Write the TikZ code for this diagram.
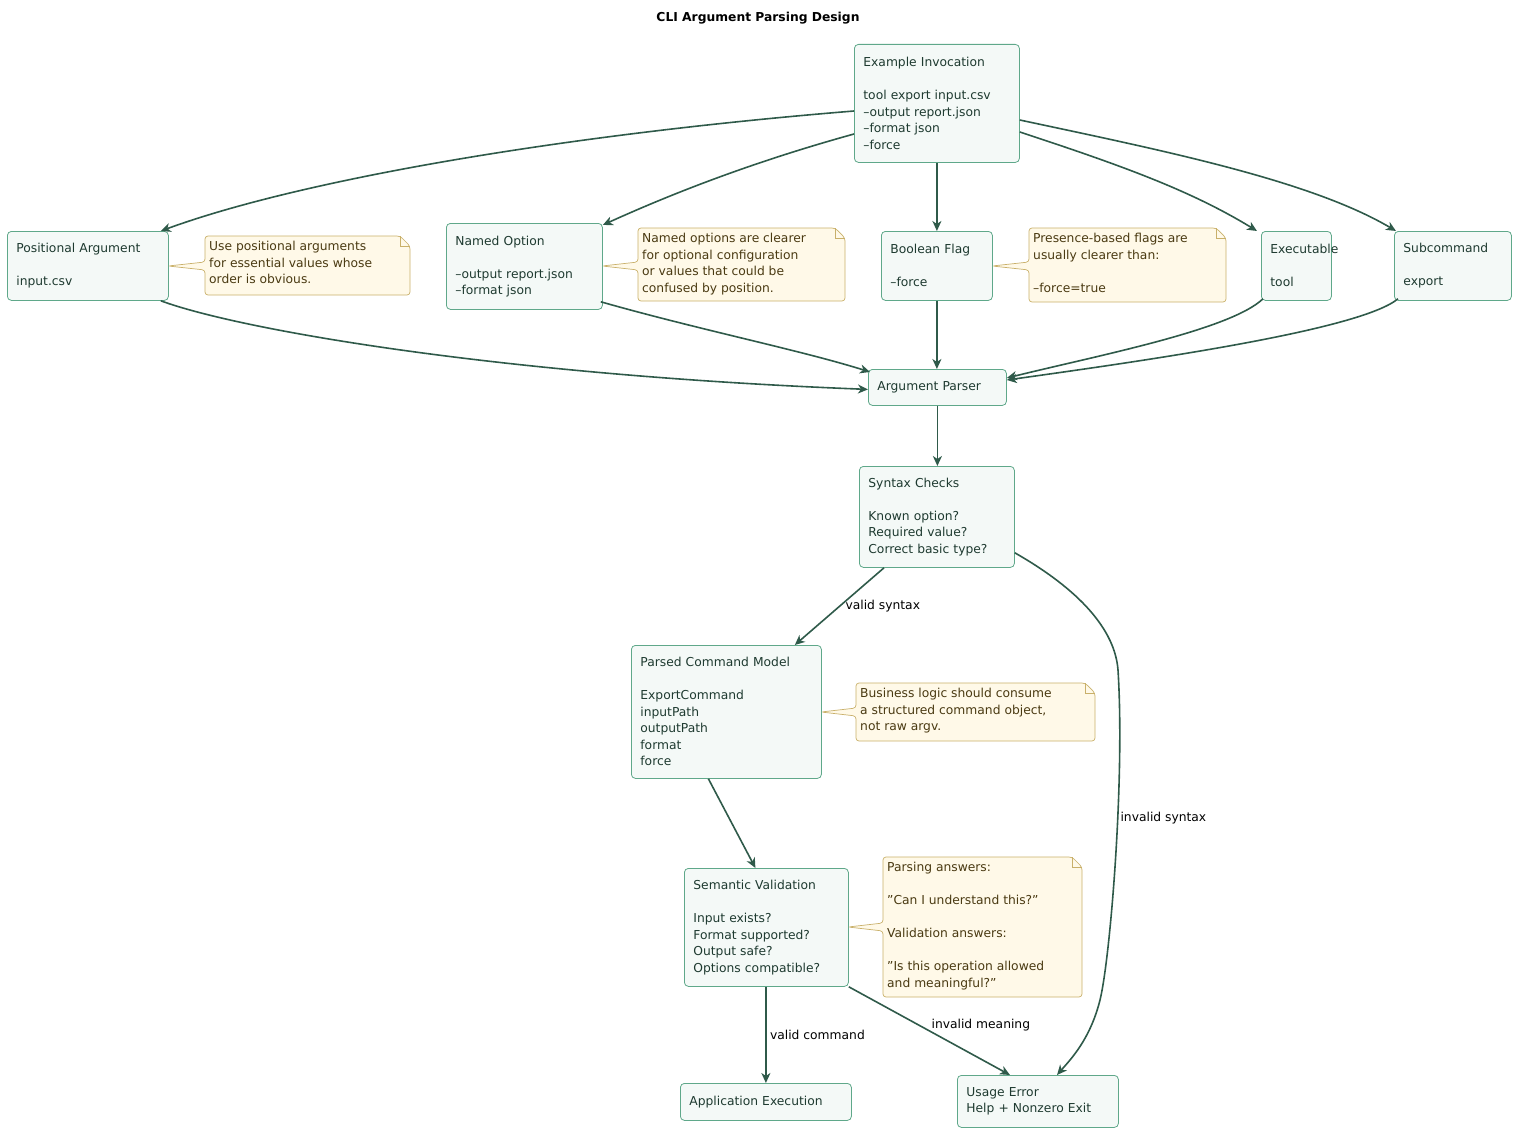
\documentclass[tikz,border=0pt]{standalone}
\usepackage{fontspec}
\setmainfont{DejaVu Sans}
\usetikzlibrary{arrows.meta,calc}
\definecolor{nfill}{HTML}{F4F9F7}
\definecolor{nline}{HTML}{5FA88A}
\definecolor{ntext}{HTML}{1E3A30}
\definecolor{eline}{HTML}{2F5A4A}
\definecolor{qfill}{HTML}{FFF9E8}
\definecolor{qline}{HTML}{C9B06A}
\definecolor{qtext}{HTML}{4A3A12}
\tikzset{
  box/.style={draw=nline, fill=nfill, rounded corners=4pt, anchor=north west, align=left,
    inner xsep=9pt, inner ysep=4pt, text=ntext, font=\fontsize{12.3}{16.5}\selectfont, line width=0.8pt},
  arr/.style={-{Stealth[length=10pt,width=9pt,inset=3pt]}, draw=eline, line width=1.6pt},
  notep/.style={draw=qline, fill=qfill, line width=0.7pt},
  notet/.style={anchor=north west, align=left, inner sep=3pt, text=qtext, font=\fontsize{12.3}{16.5}\selectfont},
  lab/.style={font=\fontsize{12.3}{16.5}\selectfont, text=black}
}
\newcommand{\bx}[6]{\node[box, minimum width=#4pt, minimum height=#5pt, text width=#4pt-18pt] (#1) at (#2,#3) {#6};}
\begin{document}
\begin{tikzpicture}[x=1pt,y=-1pt]
\useasboundingbox (0,0) rectangle (1516,1132);
\node[font=\fontsize{12.3}{15}\selectfont\bfseries] (title) at (758,18) {CLI Argument Parsing Design};
\bx{ex}{854}{44}{165}{118}{Example Invocation\\[16.5pt]tool export input.csv\\--output report.json\\--format json\\--force}
\bx{pos}{7}{231}{161}{69}{Positional Argument\\[16.5pt]input.csv}
\bx{nam}{446}{223}{156}{86}{Named Option\\[16.5pt]--output report.json\\--format json}
\bx{bool}{881}{231}{111}{69}{Boolean Flag\\[16.5pt]--force}
\bx{exe}{1261}{231}{70}{69}{Executable\\[16.5pt]tool}
\bx{sub}{1394}{231}{117}{69}{Subcommand\\[16.5pt]export}
\bx{par}{868}{369}{138}{36}{Argument Parser}
\bx{syn}{859}{466}{155}{101}{Syntax Checks\\[16.5pt]Known option?\\Required value?\\Correct basic type?}
\bx{pcm}{631}{645}{190}{133}{Parsed Command Model\\[16.5pt]ExportCommand\\inputPath\\outputPath\\format\\force}
\bx{sem}{684}{868}{164}{118}{Semantic Validation\\[16.5pt]Input exists?\\Format supported?\\Output safe?\\Options compatible?}
\bx{app}{680}{1083}{171}{37}{Application Execution}
\bx{use}{957}{1075}{161}{52}{Usage Error\\Help + Nonzero Exit}
% notes
\begin{scope}[rounded corners=3pt]
\draw[notep] (205,236)--(400,236)--(410,246)--(410,295)--(205,295)--(205,270)--(168,266)--(205,262)--cycle;
\draw[notep] (638,228)--(835,228)--(845,238)--(845,301)--(638,301)--(638,270)--(602,266)--(638,262)--cycle;
\draw[notep] (1029,228)--(1216,228)--(1226,238)--(1226,302)--(1029,302)--(1029,270)--(992,266)--(1029,262)--cycle;
\draw[notep] (856,683)--(1085,683)--(1095,693)--(1095,741)--(856,741)--(856,716)--(821,712)--(856,708)--cycle;
\draw[notep] (883,857)--(1072,857)--(1082,867)--(1082,997)--(883,997)--(883,931)--(848,927)--(883,923)--cycle;
\end{scope}
\draw[qline,line width=0.7pt] (400,236)--(400,246)--(410,246) (835,228)--(835,238)--(845,238) (1216,228)--(1216,238)--(1226,238) (1085,683)--(1085,693)--(1095,693) (1072,857)--(1072,867)--(1082,867);
\node[notet] (n1) at (206,238) {Use positional arguments\\for essential values whose\\order is obvious.};
\node[notet] (n2) at (639,230) {Named options are clearer\\for optional configuration\\or values that could be\\confused by position.};
\node[notet] (n3) at (1030,230) {Presence-based flags are\\usually clearer than:\\[16.5pt]--force=true};
\node[notet] (n4) at (857,685) {Business logic should consume\\a structured command object,\\not raw argv.};
\node[notet] (n5) at (884,859) {Parsing answers:\\[16.5pt]"Can I understand this?"\\[16.5pt]Validation answers:\\[16.5pt]"Is this operation allowed\\and meaningful?"};
% edges
\draw[arr] ($(ex.north west)+(0,67)$) .. controls (560,135) and (300,180) .. ($(pos.north east)+(-8,0)$);
\draw[arr] ($(ex.north west)+(0,90)$) .. controls (760,160) and (680,190) .. ($(nam.north east)+(0,2)$);
\draw[arr] (ex.south -| bool.north) -- (bool.north);
\draw[arr] ($(ex.north east)+(0,88)$) .. controls (1120,165) and (1190,190) .. ($(exe.north west)+(-4,0)$);
\draw[arr] ($(ex.north east)+(0,76)$) .. controls (1160,150) and (1310,180) .. ($(sub.north west)+(2,0)$);
\draw[arr] ($(pos.south east)+(-8,0)$) .. controls (240,330) and (500,375) .. ($(par.west)+(0,2)$);
\draw[arr] ($(nam.south east)+(-2,-8)$) .. controls (700,330) and (800,350) .. ($(par.north west)+(2,3)$);
\draw[arr] (bool.south) -- (bool.south |- par.north);
\draw[arr] ($(exe.south west)+(2,-2)$) .. controls (1230,330) and (1100,355) .. ($(par.north east)+(0,9)$);
\draw[arr] ($(sub.south west)+(4,-2)$) .. controls (1360,330) and (1150,360) .. ($(par.north east)+(0,11)$);
\draw[arr] (par.south) -- (par.south |- syn.north);
\draw[arr] ($(syn.south west)+(25,0)$) -- node[lab,pos=0.5,anchor=west,xshift=2pt] {valid syntax} ($(pcm.north east)+(-27,0)$);
\draw[arr] ($(syn.south east)+(0,-15)$) .. controls (1080,590) and (1115,630) .. (1118,670)
  .. controls (1125,780) and (1110,960) .. (1100,1000)
  node[lab,pos=0.0,anchor=south west] {}
  .. controls (1090,1040) and (1070,1060) .. ($(use.north west)+(100,0)$);
\node[lab,anchor=west] (lis) at (1117,818) {invalid syntax};
\draw[arr] ($(pcm.south)+(-18,0)$) -- ($(sem.north)+(-11,0)$);
\draw[arr] (sem.south -| app.north) -- node[lab,pos=0.5,anchor=west] {valid command} (app.north);
\draw[arr] (sem.south east) -- node[lab,pos=0.55,anchor=south west,xshift=-10pt] {invalid meaning} ($(use.north west)+(53,0)$);
\end{tikzpicture}
\end{document}
